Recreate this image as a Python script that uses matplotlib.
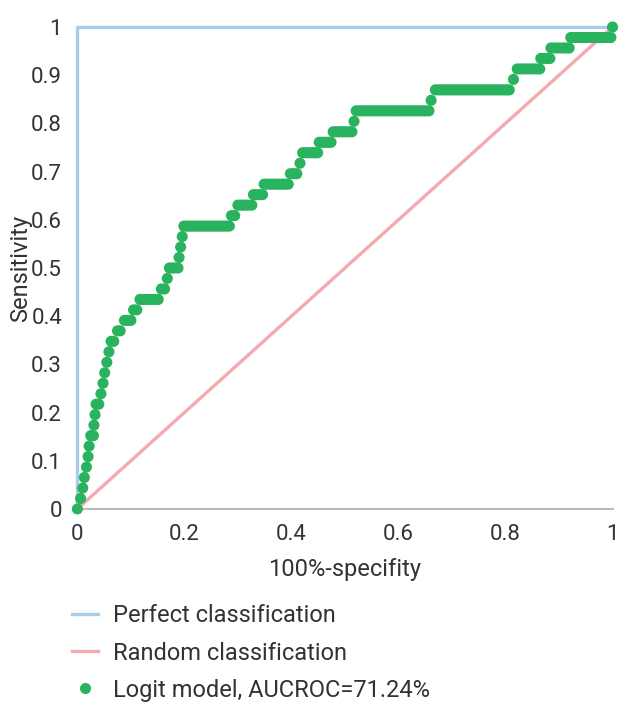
import matplotlib
matplotlib.use("Agg")
import matplotlib.pyplot as plt
from matplotlib.lines import Line2D

plt.rcParams['font.family'] = ['Roboto', 'DejaVu Sans']

# ROC curve of the logit model: false positive rate and number of true positives (out of 46)
n_pos = 46
fpr = [
    0.000, 0.006, 0.010, 0.013, 0.017, 0.020, 0.022, 0.025, 0.030, 0.031, 0.033,
    0.035, 0.040, 0.044, 0.048, 0.051, 0.055, 0.059, 0.063, 0.068, 0.075, 0.080,
    0.088, 0.094, 0.100, 0.105, 0.111,
    0.117, 0.122, 0.127, 0.132, 0.137, 0.142, 0.147, 0.151,
    0.157, 0.163, 0.168, 0.172, 0.177, 0.182, 0.188, 0.190, 0.193, 0.196,
    0.199, 0.204, 0.209, 0.214, 0.219, 0.224, 0.229, 0.234, 0.239, 0.244, 0.249,
    0.254, 0.259, 0.264, 0.269, 0.274, 0.279, 0.284,
    0.288, 0.294,
    0.300, 0.305, 0.310, 0.315, 0.320, 0.326,
    0.329, 0.334, 0.340, 0.346,
    0.349, 0.354, 0.359, 0.364, 0.369, 0.374, 0.379, 0.384, 0.389, 0.394,
    0.398, 0.404, 0.410, 0.416,
    0.421, 0.426, 0.431, 0.436, 0.441, 0.445, 0.449,
    0.452, 0.457, 0.462, 0.467, 0.471, 0.474,
    0.478, 0.483, 0.488, 0.493, 0.498, 0.503, 0.508, 0.513, 0.517,
    0.521, 0.526, 0.531, 0.536, 0.541, 0.546, 0.551, 0.556, 0.561, 0.566, 0.571,
    0.576, 0.581, 0.586, 0.591, 0.596, 0.601, 0.606, 0.611, 0.616, 0.621, 0.626,
    0.631, 0.636, 0.641, 0.646, 0.651, 0.657, 0.661,
    0.669, 0.674, 0.679, 0.684, 0.689, 0.694, 0.699, 0.704, 0.709, 0.714, 0.719,
    0.724, 0.729, 0.734, 0.739, 0.744, 0.749, 0.754, 0.759, 0.764, 0.769, 0.774,
    0.779, 0.784, 0.789, 0.794, 0.799, 0.803, 0.807, 0.815,
    0.822, 0.828, 0.834, 0.840, 0.846, 0.852, 0.858, 0.864,
    0.866, 0.872, 0.878, 0.883,
    0.885, 0.891, 0.897, 0.903, 0.909, 0.914, 0.919,
    0.922, 0.927, 0.932, 0.937, 0.942, 0.947, 0.952, 0.957, 0.962, 0.967, 0.972,
    0.977, 0.982, 0.987, 0.992, 0.997, 1.000,
]
tp = [
    0, 1, 2, 3, 4, 5, 6, 7, 7, 8, 9,
    10, 10, 11, 12, 13, 14, 15, 16, 16, 17, 17,
    18, 18, 18, 19, 19,
    20, 20, 20, 20, 20, 20, 20, 20,
    21, 21, 22, 23, 23, 23, 23, 24, 25, 26,
    27, 27, 27, 27, 27, 27, 27, 27, 27, 27, 27,
    27, 27, 27, 27, 27, 27, 27,
    28, 28,
    29, 29, 29, 29, 29, 29,
    30, 30, 30, 30,
    31, 31, 31, 31, 31, 31, 31, 31, 31, 31,
    32, 32, 32, 33,
    34, 34, 34, 34, 34, 34, 34,
    35, 35, 35, 35, 35, 35,
    36, 36, 36, 36, 36, 36, 36, 36, 37,
    38, 38, 38, 38, 38, 38, 38, 38, 38, 38, 38,
    38, 38, 38, 38, 38, 38, 38, 38, 38, 38, 38,
    38, 38, 38, 38, 38, 38, 39,
    40, 40, 40, 40, 40, 40, 40, 40, 40, 40, 40,
    40, 40, 40, 40, 40, 40, 40, 40, 40, 40, 40,
    40, 40, 40, 40, 40, 40, 40, 41,
    42, 42, 42, 42, 42, 42, 42, 42,
    43, 43, 43, 43,
    44, 44, 44, 44, 44, 44, 44,
    45, 45, 45, 45, 45, 45, 45, 45, 45, 45, 45,
    45, 45, 45, 45, 45, 46,
]
tpr = [t / n_pos for t in tp]

perfect_x = [0, 0, 1]
perfect_y = [0, 1, 1]
random_x = [0, 1]
random_y = [0, 1]

x_ticks = [0, 0.2, 0.4, 0.6, 0.8, 1]
x_labels = ['0', '0.2', '0.4', '0.6', '0.8', '1']
y_ticks = [0, 0.1, 0.2, 0.3, 0.4, 0.5, 0.6, 0.7, 0.8, 0.9, 1]
y_labels = ['0', '0.1', '0.2', '0.3', '0.4', '0.5', '0.6', '0.7', '0.8', '0.9', '1']

blue = '#a8cde8'
pink = '#f5aab0'
green = '#2ab35e'
text_col = '#333333'

fig = plt.figure(figsize=(6.19, 7.02), dpi=100)
ax = fig.add_axes([0.125, 0.275, 0.8645, 0.6865])

ax.plot(perfect_x, perfect_y, color=blue, lw=2.4, solid_capstyle='butt', clip_on=False, zorder=2)
ax.plot(random_x, random_y, color=pink, lw=2.4, clip_on=False, zorder=2)
ax.scatter(fpr, tpr, s=64, color=green, edgecolors='none', clip_on=False, zorder=3)

ax.set_xlim(0, 1)
ax.set_ylim(0, 1)
ax.set_xticks(x_ticks)
ax.set_xticklabels(x_labels)
ax.set_yticks(y_ticks)
ax.set_yticklabels(y_labels)
ax.tick_params(length=0, labelsize=16, labelcolor=text_col)
ax.tick_params(axis='x', pad=11)
ax.tick_params(axis='y', pad=11)

for s in ['top', 'right', 'left']:
    ax.spines[s].set_visible(False)
ax.spines['bottom'].set_color('#bbbbbb')
ax.spines['bottom'].set_linewidth(1.5)

ax.set_xlabel('100%-specifity', fontsize=17, color=text_col, labelpad=9)
ax.set_ylabel('Sensitivity', fontsize=17, color=text_col, labelpad=-1)

handles = [
    Line2D([], [], color=blue, lw=2.4),
    Line2D([], [], color=pink, lw=2.4),
    Line2D([], [], color=green, lw=0, marker='o', markersize=8, markeredgewidth=0),
]
labels = ['Perfect classification', 'Random classification', 'Logit model, AUCROC=71.24%']
leg = fig.legend(handles, labels, loc='upper left', bbox_to_anchor=(0.101, 0.1525),
                 frameon=False, fontsize=17, handlelength=1.1, handletextpad=0.64,
                 labelspacing=0.6, borderaxespad=0)
for t in leg.get_texts():
    t.set_color(text_col)

fig.savefig('out.png', dpi=100)
